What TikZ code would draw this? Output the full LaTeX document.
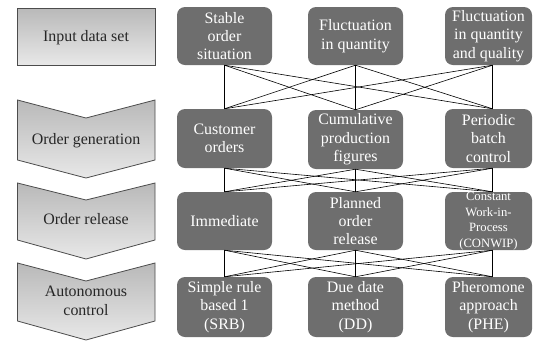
\documentclass[tikz,border=0pt]{standalone}
\usepackage{fontspec}
\setmainfont{Liberation Serif}
\begin{document}
\begin{tikzpicture}[x=1bp,y=-1bp,
  optbox/.style={fill=boxgray, rounded corners=8bp, text=white, align=center, inner sep=0pt,
     font=\fontsize{16}{18.5}\selectfont},
  smalltext/.style={font=\fontsize{12.7}{15.5}\selectfont},
  stagetext/.style={text=black!85, align=center, inner sep=0pt, font=\fontsize{16}{19.5}\selectfont},
  stageshape/.style={draw=black!70, line width=0.8bp, top color=gray!55, bottom color=gray!18},
  link/.style={draw=black, line width=0.6bp}]
\definecolor{boxgray}{HTML}{6E6E6E}
\useasboundingbox (0,0) rectangle (538,345);
% left stages
\path[stageshape] (17.5,8) rectangle (155,65);
\node[stagetext] (s1) at (86,38) {Input data set};
\path[stageshape] (17.5,100) -- (86,118) -- (155,100) -- (155,160) -- (86,178) -- (17.5,160) -- cycle;
\node[stagetext] (s2) at (86,141) {Order generation};
\path[stageshape] (17.5,183) -- (86,200) -- (155,183) -- (155,240) -- (86,259) -- (17.5,240) -- cycle;
\node[stagetext] (s3) at (86,219) {Order release};
\path[stageshape] (17.5,263) -- (86,281) -- (155,263) -- (155,321) -- (86,340) -- (17.5,321) -- cycle;
\node[stagetext] (s4) at (86,301) {Autonomous\\control};
% option boxes
\node[optbox, minimum width=95bp, minimum height=58bp] (r11) at (224.5,36) {Stable\\order\\situation};
\node[optbox, minimum width=95bp, minimum height=58bp] (r12) at (355.5,36) {Fluctuation\\in quantity};
\node[optbox, minimum width=87bp, minimum height=58bp] (r13) at (488.5,36) {Fluctuation\\in quantity\\and quality};
\node[optbox, minimum width=95bp, minimum height=59bp] (r21) at (224.5,138.5) {Customer\\orders};
\node[optbox, minimum width=95bp, minimum height=59bp] (r22) at (355.5,139.5) {Cumulative\\production\\figures};
\node[optbox, minimum width=87bp, minimum height=59bp] (r23) at (488.5,138.5) {Periodic\\batch\\control};
\node[optbox, minimum width=95bp, minimum height=58bp] (r31) at (224.5,221) {Immediate};
\node[optbox, minimum width=95bp, minimum height=58bp] (r32) at (355.5,221) {Planned\\order\\release};
\node[optbox, smalltext, minimum width=87bp, minimum height=58bp] (r33) at (488.5,221) {Constant\\Work-in-\\Process\\(CONWIP)};
\node[optbox, minimum width=95bp, minimum height=60bp] (r41) at (224.5,307) {Simple rule\\based 1\\(SRB)};
\node[optbox, minimum width=95bp, minimum height=60bp] (r42) at (355.5,307) {Due date\\method\\(DD)};
\node[optbox, minimum width=87bp, minimum height=60bp] (r43) at (488.5,307) {Pheromone\\approach\\(PHE)};
% connection points
\foreach \r in {1,2,3,4}{
  \coordinate (t\r1) at (r\r1.north);
  \coordinate (t\r2) at (r\r2.north);
  \coordinate (t\r3) at ([xshift=4bp]r\r3.north);
  \coordinate (b\r1) at (r\r1.south);
  \coordinate (b\r2) at (r\r2.south);
  \coordinate (b\r3) at ([xshift=4bp]r\r3.south);
}
\foreach \r/\n in {1/2,2/3,3/4}{
  \foreach \i in {1,2,3}{
    \foreach \j in {1,2,3}{
      \draw[link] (b\r\i) -- (t\n\j);
    }
  }
}
\end{tikzpicture}
\end{document}
